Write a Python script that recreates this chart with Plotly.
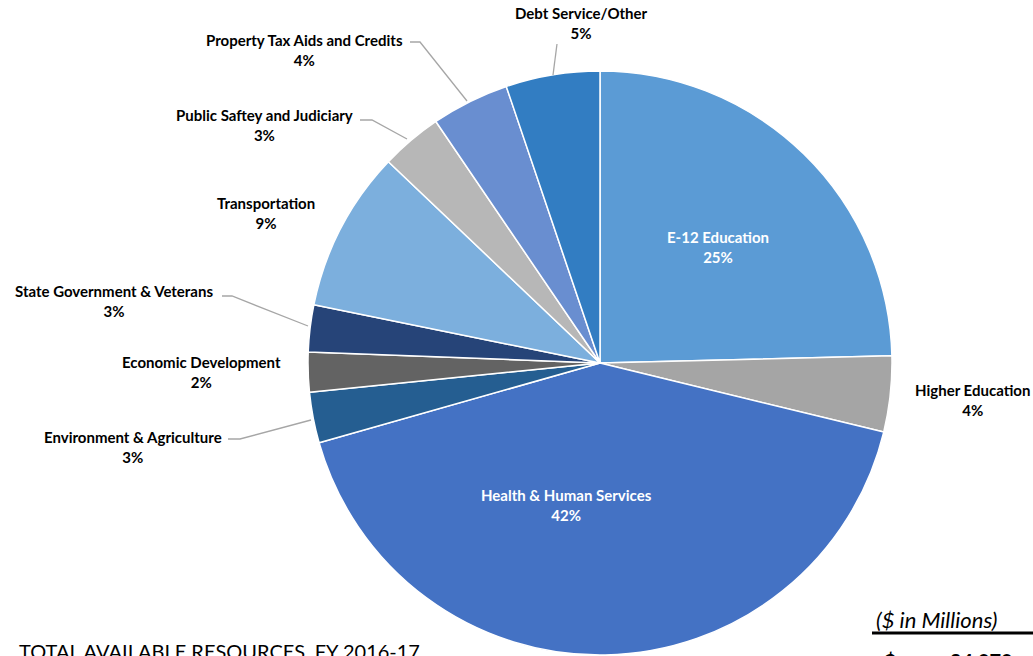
import plotly.graph_objects as go

W, H = 1033, 656

categories = ["E-12 Education", "Higher Education", "Health & Human Services",
              "Environment & Agriculture", "Economic Development",
              "State Government & Veterans", "Transportation",
              "Public Saftey and Judiciary", "Property Tax Aids and Credits",
              "Debt Service/Other"]
shares = [24.6, 4.2, 41.8, 2.8, 2.2, 2.6, 8.9, 3.4, 4.3, 5.2]
colors = ["#5B9BD5", "#A5A5A5", "#4472C4", "#255E91", "#636363",
          "#264478", "#7CAFDD", "#B7B7B7", "#698ED0", "#327DC2"]

# label placement (pixel centre of the two-line label) and text colour
label_pos = [(718, 247), (972, 400), (566, 505), (133, 447), (201, 372),
             (114, 301), (266, 213), (264, 125), (304, 50), (581, 23)]
label_col = ["white", "black", "white", "black", "black",
             "black", "black", "black", "black", "black"]
# leader lines (pixel polylines)
leaders = [
    [(228, 439), (240, 439), (311, 420)],
    [(222, 296), (232, 296), (308, 326)],
    [(360, 120), (372, 120), (407, 139)],
    [(410, 42), (420, 42), (467, 101)],
    [(557, 44), (553, 75)],
]

def px(x):
    return x / W

def py(y):
    return 1 - y / H

cx, cy, r = 600, 363, 292

fig = go.Figure(go.Pie(
    labels=categories, values=shares, sort=False, direction="clockwise",
    rotation=0, textinfo="none", hoverinfo="label+percent",
    marker=dict(colors=colors, line=dict(color="white", width=1.5)),
    domain=dict(x=[px(cx - r), px(cx + r)], y=[py(cy + r), py(cy - r)]),
    showlegend=False,
))

total = sum(shares)
annotations = []
for name, v, (x, y), c in zip(categories, shares, label_pos, label_col):
    pct = round(v / total * 100)
    annotations.append(dict(
        x=px(x), y=py(y), xref="paper", yref="paper", showarrow=False,
        text=f"<b>{name}<br>{pct}%</b>", align="center",
        font=dict(family="Lato", size=15, color=c),
        xanchor="center", yanchor="middle"))

shapes = []
for line in leaders:
    path = "M " + " L ".join(f"{px(a)},{py(b)}" for a, b in line)
    shapes.append(dict(type="path", path=path, xref="paper", yref="paper",
                       line=dict(color="#A6A6A6", width=1.3)))

# bottom table fragments
annotations += [
    dict(x=px(17), y=py(651), xref="paper", yref="paper", showarrow=False,
         text="TOTAL AVAILABLE RESOURCES, FY 2016-17", xanchor="left",
         yanchor="middle", font=dict(family="Lato", size=20, color="black")),
    dict(x=px(874), y=py(619), xref="paper", yref="paper", showarrow=False,
         text="<i>($ in Millions)</i>", xanchor="left", yanchor="middle",
         font=dict(family="Lato", size=22, color="black")),
    dict(x=px(882), y=py(661), xref="paper", yref="paper", showarrow=False,
         text="<b>$</b>", xanchor="left", yanchor="middle",
         font=dict(family="Lato", size=20, color="black")),
    dict(x=px(948), y=py(661), xref="paper", yref="paper", showarrow=False,
         text="<b>84,070</b>", xanchor="left", yanchor="middle",
         font=dict(family="Lato", size=20, color="black")),
]
shapes.append(dict(type="line", xref="paper", yref="paper",
                   x0=px(872), x1=px(1040), y0=py(633), y1=py(633),
                   line=dict(color="black", width=3)))

fig.update_layout(
    width=W, height=H, margin=dict(l=0, r=0, t=0, b=0),
    paper_bgcolor="white", plot_bgcolor="white",
    annotations=annotations, shapes=shapes,
)

fig.write_html("out.html", config={"displayModeBar": False},
               post_script="document.body.style.margin='0';"
                           "document.body.style.overflow='hidden';")
